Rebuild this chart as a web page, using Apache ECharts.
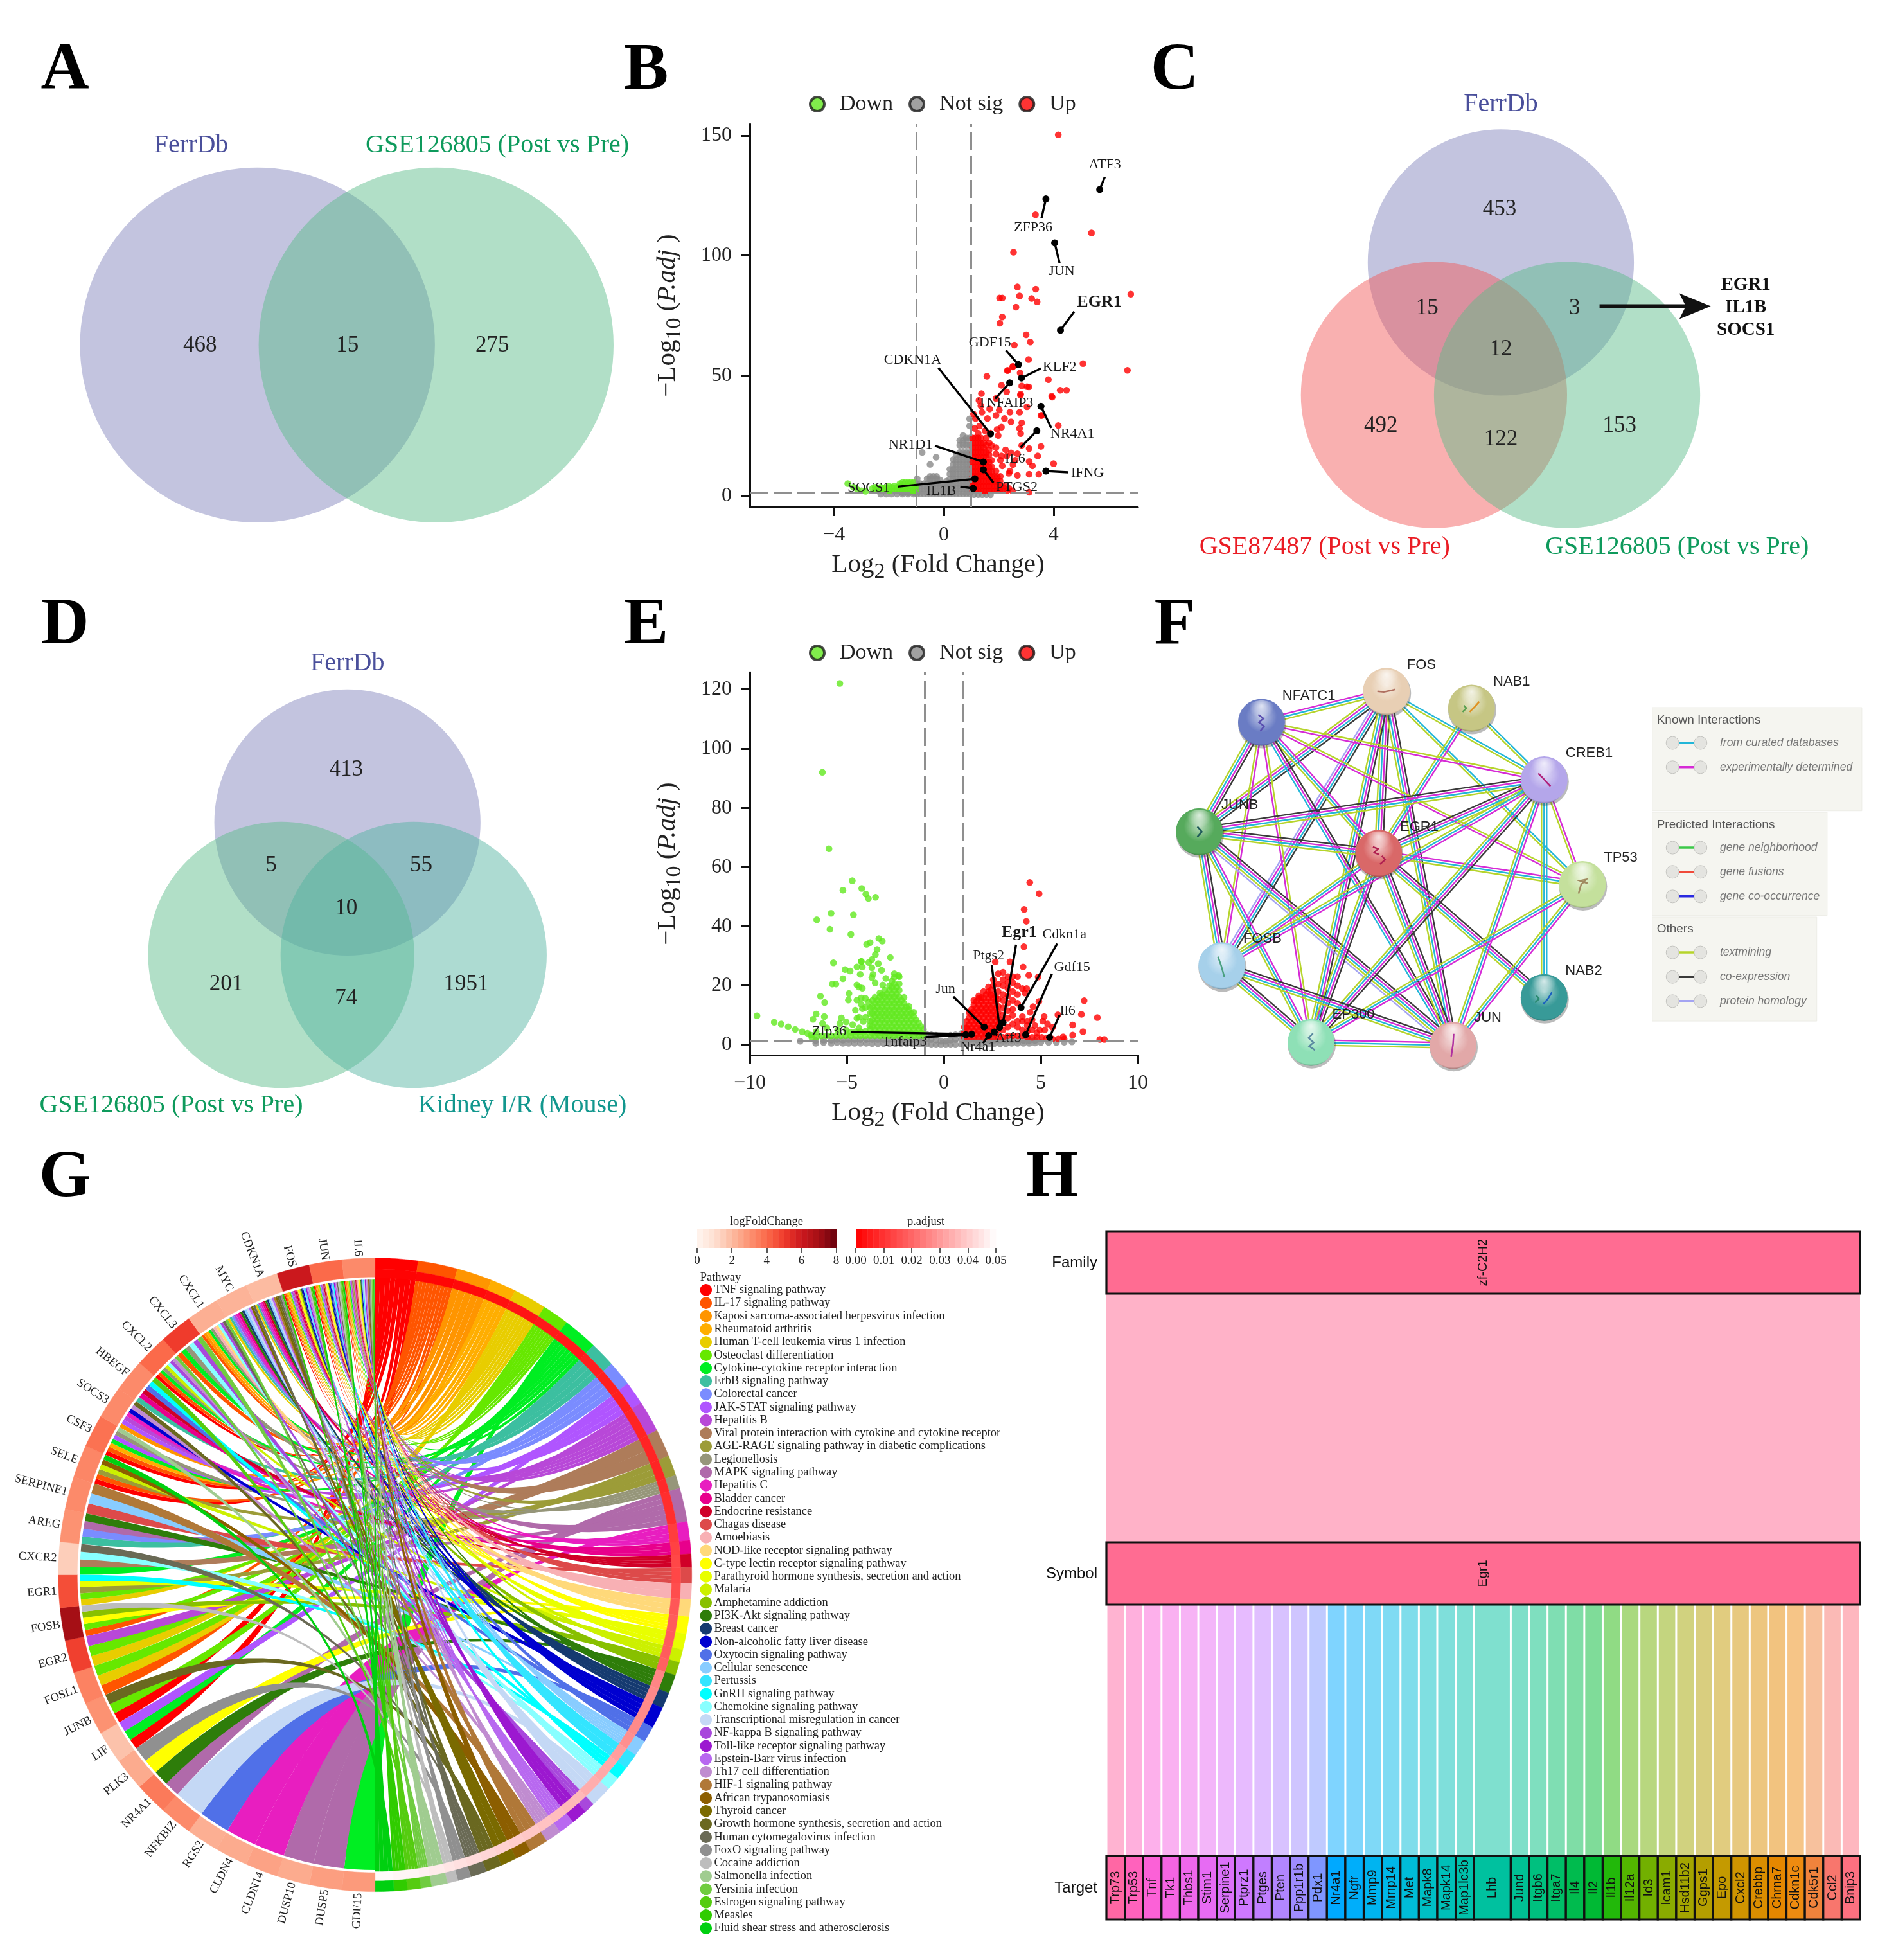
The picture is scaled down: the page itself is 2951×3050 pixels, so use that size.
<!DOCTYPE html>
<html><head><meta charset="utf-8">
<style>html,body{margin:0;padding:0;background:#fff}#c{width:2951px;height:3050px}</style>
<script src="https://cdn.jsdelivr.net/npm/echarts@6/dist/echarts.min.js"></script>
</head><body><div id="c"></div>
<script>
// ---------- DATA ----------
const panelLetters=['A','B','C','D','E','F','G','H'];
const vennSetsA=['FerrDb','GSE126805 (Post vs Pre)'];
const vennCountsA=[468,15,275];
const vennSetsC=['FerrDb','GSE87487 (Post vs Pre)','GSE126805 (Post vs Pre)'];
const vennCountsC=[453,15,3,12,492,122,153];
const vennGenesC=['EGR1','IL1B','SOCS1'];
const vennSetsD=['FerrDb','GSE126805 (Post vs Pre)','Kidney I/R (Mouse)'];
const vennCountsD=[413,5,55,10,201,74,1951];

// Volcano B: [log2FC, [-log10 p ...]]
const bGrayCols=[[-2.3,[.6]],[-2.1,[.6]],[-1.9,[.6]],[-1.7,[.6]],[-1.5,[.6,1.2]],[-1.3,[.6,1.2]],[-1.1,[.6,1.2]],[-.97,[.8,3,5,7]],[-.85,[.8,3,5]],[-.73,[.8,3,5]],[-.61,[.8,3,5,7]],[-.5,[.8,3,5,7,8]],[-.38,[.8,3,5,7,8]],[-.26,[.8,3,5,7,8]],[-.14,[.8,3,5,6.5]],[-.02,[.8,3,5]],[.1,[.8,3,5,6]],[.22,[.8,3,5,7,9,11]],[.34,[.8,3,5,7,9,11,13,15]],[.46,[.8,3,5,7,9,11,13,15,17]],[.58,[.8,3,5,7,9,11,13,15,17,18,21,23]],[.7,[.8,3,5,7,9,11,13,15,17,18,21,23,25]],[.82,[.8,3,5,7,9,11,13,15,17,18,21,23,24]],[.94,[.8,3,5,7,9,11,13,15,17,18,21,24,29,32]],[1.1,[.4]],[1.25,[.4]],[1.4,[.4]],[1.55,[.4]],[1.7,[.3]],[-.5,[13]],[-.28,[16]],[-.79,[18]]];
const bDownCols=[[-3.5,[5]],[-3.3,[3.5]],[-3.15,[2.5]],[-3,[2]],[-2.85,[1.8]],[-2.6,[3]],[-2.5,[2.2,3.5]],[-2.4,[2,3.2]],[-2.3,[2,3.5]],[-2.2,[2,3]],[-2.1,[2,3.5]],[-2,[2,4]],[-1.9,[2,3.5]],[-1.8,[2,4]],[-1.7,[2,3.5]],[-1.6,[2,4,5]],[-1.5,[2,3.5,5.5]],[-1.4,[2,3.5,5.5]],[-1.3,[2,4,5.5]],[-1.2,[2,4,5.5]],[-1.1,[2,3.5,5.5]],[-1.03,[2,3.5]]];
const bUpIso=[[4.17,150.3],[3.34,117],[5.38,109.4],[2.54,101.4],[2.68,86.9],[3.35,86],[6.81,83.9],[2.76,83.2],[2.03,82.3],[2.13,82.3],[3.2,82.1],[3.4,80.7],[2.63,78.5],[2.13,74.4],[2.04,71.8],[3.0,67],[3.15,64],[2.57,62.7],[3.09,56.7],[5.07,55],[2.51,53.6],[6.69,52.2],[2.31,52.1],[2.78,51.1],[1.57,49.7],[3.81,48.3],[2.1,46],[2.84,45.7],[3.1,45.3],[4.24,43.9],[4.47,43.9],[3.95,41],[2.79,41.8],[1.37,42.5],[4.17,29.2],[3.57,33.4],
[2.33,52.1],[2.52,53.9],[2.29,43.2],[2.8,42.3],[3.03,45.4],[3.93,41.4],[1.28,39.7],[1.9,40.5],[1.35,37.4],[1.67,36.1],[1.39,34.7],[1.16,32.1],[1.59,32.1],[1.9,33.4],[2.02,35.6],[2.41,34.7],[2.76,34.7],[3.03,37],[2.21,32.1],[2.45,30.7],[2.84,30.3],[2.76,28],[2.1,28.5],[1.94,27.6],[2.8,25.8],[1.98,25],[3.54,33.4],[3.54,20.5],[3.42,16.5],[3.11,19.6],[2.84,20.9],[2.25,19.1],[2.45,17.8],[2.1,16.5],[1.9,20],[1.74,20.9],[2.68,17.4],[3.11,14.2],[3.23,12.4],[2.13,12.4],[1.74,14.7],[2.52,12.9],[2.41,10.2],[2.68,8.4],[2.37,9.3],[3.11,8.9],[3.46,8.9],[4.0,13.3],[1.9,10.2],[2.06,8],[3.11,1.4],[2.21,4],[2.37,3],[2.06,14.7],[1.9,17.4],[2.29,16.5],[2.6,14.7],[1.08,34],[1.12,28],[1.3,29],[1.5,27],[1.7,26],[1.25,26]];
const bUpCols=[[1.05,[2,4,6,8,10,12,14,16,18,20,22,24]],[1.15,[2,4,6,8,10,12,14,16,18,20,22,24]],[1.25,[2,4,6,8,10,12,14,16,18,20,22,24]],[1.35,[2,4,6,8,10,12,14,16,18,20,22,24]],[1.45,[2,4,6,8,10,12,14,16,18,20,22]],[1.55,[2,4,6,8,10,12,14,16,18,21,24]],[1.65,[2,4,6,8,10,12,14,17,19,22]],[1.75,[2,4,6,8,10,12]],[1.85,[2,4,6,8]],[1.95,[2,4,6,8]],[2.05,[2,4,6]],[2.15,[2,3.5]],[2.3,[2]],[2.5,[2]]];
const bGenes=['ATF3','ZFP36','JUN','EGR1','GDF15','KLF2','TNFAIP3','NR4A1','CDKN1A','IL6','NR1D1','IFNG','PTGS2','SOCS1','IL1B'];
const bGeneX=[5.68,3.72,4.04,4.25,2.72,2.83,2.4,3.54,1.7,3.39,1.44,3.72,1.44,1.13,1.07];
const bGeneY=[127.5,123.6,105.3,68.9,54.6,49,47,37.2,25.7,27,14,10.2,10.8,7,3];

// Volcano E
const eGrayCols=[[-7.4,[1.2]],[-6.6,[.5,1.5]],[-6.2,[.8,1.6]],[-5.8,[.5,1.6]],[-5.5,[.8,1.8]],[-5.2,[.5,1.6]],[-4.9,[.5,1.8]],[-4.6,[.5,1.8]],[-4.3,[.5,1.8]],[-4,[.5,1.8]],[-3.7,[.4,1.8]],[-3.4,[.4,1.8]],[-3.1,[.4,1.8]],[-2.8,[.4,1.8]],[-2.5,[.4,1.8]],[-2.2,[.4,1.8]],[-1.9,[.4,1.8]],[-1.6,[.3,1.8]],[-1.3,[.3,1.8]],[-1.05,[.3,1.8]],[-.9,[.3,2,3.6]],[-.65,[0,1.8,3.4]],[-.4,[0,1.6,3.2]],[-.15,[0,1.2]],[.1,[0,1.2]],[.35,[0,1.6,3.2]],[.6,[0,1.8,3.4]],[.9,[.2,2,3.8]],[1.15,[.3,1.8]],[1.4,[.3,1.8]],[1.7,[.3,1.6]],[2,[.3,1.6]],[2.3,[.3,1.6]],[2.6,[.4,1.6]],[2.9,[.4,1.6]],[3.2,[.4,1.6]],[3.5,[.5,1.6]],[3.8,[.5,1.6]],[4.1,[.5,1.5]],[4.4,[.5,1.5]],[4.7,[.6,1.5]],[5,[.8]],[5.4,[.8]],[5.8,[.8]],[6.2,[.9]],[6.6,[1]]];
const eDownIso=[[-5.36,122],[-6.26,92],[-5.92,66.2],[-4.72,55.4],[-5.2,52.2],[-4.23,52.8],[-4.02,50.9],[-3.89,49.4],[-3.52,49.8],[-5.81,44.4],[-6.55,42.2],[-4.66,43.9],[-5.87,39],[-4.79,37.3],[-3.35,35.9],[-3.17,35],[-3.8,34.5],[-3.98,33.9],[-3.44,32.2],[-3.53,30.5],[-2.76,29.5],[-5.69,27.7],[-3.71,28.8],[-4.25,28.2],[-9.63,9.8],[-8.74,7.6],[-8.38,7],[-8.02,6.1],[-7.66,5.2],[-7.3,4.4],[-7.03,3.9],[-6.85,3.3],[-6.58,4.4],
[-4.26,28.1],[-4.48,26.3],[-4.2,26.3],[-3.87,27.8],[-3.71,26],[-3.38,27.4],[-3.21,25.2],[-4.31,23.8],[-3.65,23.8],[-3.71,22.7],[-3.54,20.9],[-3.15,20.2],[-2.99,22.4],[-2.33,23.4],[-5.09,25.4],[-4.83,24.9],[-5.2,22.3],[-5.75,20.5],[-5.56,20.5],[-4.48,20.2],[-4.37,19.5],[-4.2,19.1],[-4.89,17.3],[-4.92,15.1],[-6.36,16.4],[-6.14,14.3],[-4.48,15.1],[-4.26,15.8],[-4.04,15.7],[-3.87,14.4],[-4.26,13.7],[-4.04,12.6],[-4.2,12.2],[-4.56,11.7],[-6.58,10.4],[-6.74,8.6],[-6.16,9.5],[-5.28,9.1],[-5.03,7.7],[-5.36,7.2],[-4.7,6.8],[-4.37,9.3],[-4.48,9],[-4.04,9.3],[-4.15,7.9],[-4.37,5.7],[-3.82,6.4],[-6.25,7.2],[-6.03,5.7],[-5.47,5],[-5.03,5]];
const eDownCols=[[-1.05,[3,5.2]],[-1.3,[3,5.2,7.4]],[-1.55,[3,5.2,7.4,9.6,11]],[-1.8,[3,5.2,7.4,9.6,11.8,13]],[-2.05,[3,5.2,7.4,9.6,11.8,14,16]],[-2.3,[3,5.2,7.4,9.6,11.8,14,16.2,18.4,20.6,23]],[-2.55,[3,5.2,7.4,9.6,11.8,14,16.2,18.4,20.6,22.8,24]],[-2.8,[3,5.2,7.4,9.6,11.8,14,16.2,18.4,20]],[-3.05,[3,5.2,7.4,9.6,11.8,14,16.2,18.5]],[-3.3,[3,5.2,7.4,9.6,11.8,14,16.2,17.5]],[-3.55,[3,5.2,7.4,9.6,11.8,14,16]],[-3.8,[3,5.2,8,10.5,12.5]],[-4.05,[3,4.6]],[-4.3,[3,4.4]],[-4.55,[3,4.4]],[-4.8,[3,4.2]],[-5.05,[3]],[-5.3,[3]],[-5.55,[3]],[-5.8,[3]],[-6.05,[3]],[-6.3,[3]],[-6.55,[2.6]],[-6.8,[2.4]],
[-1.18,[4,6.2]],[-1.43,[4,6.2,8.4]],[-1.68,[4,6.2,8.4,10.6]],[-1.93,[4,6.2,8.4,10.6,12.8]],[-2.18,[4,6.2,8.4,10.6,12.8,15]],[-2.43,[4,6.2,8.4,10.6,12.8,15,17.2,19.4]],[-2.68,[4,6.2,8.4,10.6,12.8,15,17.2,19.4,21.5]],[-2.93,[4,6.2,8.4,10.6,12.8,15,17.2]],[-3.18,[4,6.2,8.4,10.6,12.8,15,17]],[-3.43,[4,6.2,8.4,10.6,12.8,15]],[-3.68,[4,6.2,8.4,10.6,12.8,15]]];
const eUpIso=[[4.43,54.8],[4.91,51],[4.14,45.7],[4.25,41.7],[4.13,33.1],[2.65,28],[3.41,28],[4.09,26.3],[4.38,23.5],[4.86,22.9],[7.23,14.9],[7.09,10.3],[5.88,10.1],[7.91,9.2],[6.64,6.7],[7.17,4.4],[6.64,3.3],[8.04,1.8],[8.27,1.8],[6.15,2.7],[5.6,5.9],[5.17,9.5],[4.9,14.6],[4.6,12.9],[4.27,19],[4.18,17.5],[4.45,11],[5.1,8],[5.35,7],[5.2,5],[4.7,6.5],[4.95,5]];
const eUpCols=[[1.05,[2.5,4,6]],[1.3,[2.5,4.7,6.9,9.1,11]],[1.55,[2.5,4.7,6.9,9.1,11.3,13.5,15]],[1.8,[2.5,4.7,6.9,9.1,11.3,13.5,15.7,16.5]],[2.05,[2.5,4.7,6.9,9.1,11.3,13.5,15.7,18]],[2.3,[2.5,4.7,6.9,9.1,11.3,13.5,15.7,17.9,19.5]],[2.55,[2.5,4.7,6.9,9.1,11.3,13.5,15.7,17,20,22]],[2.8,[2.5,5,7,9,11,13,15.5,18,20.5,24]],[3.05,[2.5,5,8,10,12.5,15,17,20,22,24.5]],[3.3,[3,6,9,11.5,14,16.5,19,21,23]],[3.55,[3,7,10,12,15,18,21,23]],[3.8,[3,6,8,14,17,20,23]],[4.05,[3,5,8,9.5,19]],[4.3,[2.5,4.5,6.5,8]],[4.55,[2.5,5,8.5]],[4.8,[2.5,4]],[5.05,[2.5]],[5.3,[2.2]],[5.6,[2]],[5.9,[2]],[6.2,[2]],
[1.18,[3.6,5.8,8]],[1.43,[3.6,5.8,8,10.2,12]],[1.68,[3.6,5.8,8,10.2,12.4,14.6]],[1.93,[3.6,5.8,8,10.2,12.4,14.6,16]],[2.18,[3.6,5.8,8,10.2,12.4,14.6,17]],[2.43,[3.6,5.8,8,10.2,12.4,14.6,16.8,18.5]],[2.68,[3.6,5.8,8,10.2,12.4,14.6,16]]];
const eGenes=['Egr1','Cdkn1a','Ptgs2','Gdf15','Jun','Il6','Atf3','Nr4a1','Tnfaip3','Zfp36'];
const eGeneX=[3.05,3.98,2.87,4.22,2.08,5.45,2.6,2.31,1.13,1.43];
const eGeneY=[7.5,12.6,5.9,3.4,6,2.5,4.3,3.1,3.4,3.6];

// Network F
const netNodes=['FOS','NAB1','NFATC1','CREB1','JUNB','EGR1','TP53','FOSB','NAB2','EP300','JUN'];
const netEdges=[['FOS','NFATC1','tcm'],['FOS','JUNB','kcmt'],['FOS','EGR1','kmct'],['FOS','CREB1','ct'],['FOS','TP53','ct'],['FOS','FOSB','kcmh'],['FOS','EP300','kmct'],['FOS','JUN','kmct'],['NAB1','CREB1','ct'],['NAB1','EGR1','mct'],['NFATC1','JUNB','kmct'],['NFATC1','EGR1','mct'],['NFATC1','CREB1','tm'],['NFATC1','TP53','tm'],['NFATC1','FOSB','mt'],['NFATC1','EP300','tm'],['NFATC1','JUN','kmc'],['JUNB','EGR1','kmct'],['JUNB','CREB1','kmct'],['JUNB','FOSB','kmct'],['JUNB','EP300','mct'],['JUNB','JUN','kmcth'],['EGR1','CREB1','kmct'],['EGR1','TP53','mct'],['EGR1','FOSB','mct'],['EGR1','EP300','kmct'],['EGR1','JUN','kmct'],['EGR1','NAB2','kmct'],['CREB1','TP53','mt'],['CREB1','NAB2','cct'],['CREB1','FOSB','mct'],['CREB1','EP300','kmct'],['CREB1','JUN','mct'],['TP53','EP300','mct'],['TP53','JUN','mct'],['FOSB','EP300','kmct'],['FOSB','JUN','kmct'],['EP300','JUN','mct']];
const netLegendGroups=[['Known Interactions',[['from curated databases','c'],['experimentally determined','m']]],['Predicted Interactions',[['gene neighborhood','g'],['gene fusions','r'],['gene co-occurrence','b']]],['Others',[['textmining','t'],['co-expression','k'],['protein homology','h']]]];

// Chord G
const pathways=['TNF signaling pathway','IL-17 signaling pathway','Kaposi sarcoma-associated herpesvirus infection','Rheumatoid arthritis','Human T-cell leukemia virus 1 infection','Osteoclast differentiation','Cytokine-cytokine receptor interaction','ErbB signaling pathway','Colorectal cancer','JAK-STAT signaling pathway','Hepatitis B','Viral protein interaction with cytokine and cytokine receptor','AGE-RAGE signaling pathway in diabetic complications','Legionellosis','MAPK signaling pathway','Hepatitis C','Bladder cancer','Endocrine resistance','Chagas disease','Amoebiasis','NOD-like receptor signaling pathway','C-type lectin receptor signaling pathway','Parathyroid hormone synthesis, secretion and action','Malaria','Amphetamine addiction','PI3K-Akt signaling pathway','Breast cancer','Non-alcoholic fatty liver disease','Oxytocin signaling pathway','Cellular senescence','Pertussis','GnRH signaling pathway','Chemokine signaling pathway','Transcriptional misregulation in cancer','NF-kappa B signaling pathway','Toll-like receptor signaling pathway','Epstein-Barr virus infection','Th17 cell differentiation','HIF-1 signaling pathway','African trypanosomiasis','Thyroid cancer','Growth hormone synthesis, secretion and action','Human cytomegalovirus infection','FoxO signaling pathway','Cocaine addiction','Salmonella infection','Yersinia infection','Estrogen signaling pathway','Measles','Fluid shear stress and atherosclerosis'];
const pathwaySizes=[8,7.4,6.6,4.8,6.2,5,6.5,4.8,4.7,4.3,5.9,5.2,3.8,2.5,6.3,3.5,2.5,2.5,3,3,3.2,3.2,3,2.4,2.5,3.5,3,4,3,3,3,2.5,2.5,4,2,3,3,3,3.5,3,3,3,3,2.5,2,3,2,2.5,2.5,3.5];
const pathwayPadj=[.0005,.001,.002,.003,.004,.005,.005,.006,.006,.006,.007,.007,.007,.008,.009,.012,.013,.014,.014,.015,.017,.018,.018,.018,.019,.026,.027,.027,.027,.028,.031,.033,.033,.034,.036,.036,.037,.038,.039,.04,.041,.042,.043,.044,.045,.046,.047,.048,.048,.049];
const pathwayColors=['#ff0000','#ff5500','#ff9500','#ffae00','#e8cd00','#66e800','#00ee22','#3cbfa0','#7a8cff','#b055ff','#b848d8','#ae7c5a','#9c9c38','#96967a','#b06aaa','#e81ec0','#e8008c','#d00028','#dd4a4a','#f8b0b4','#ffd97a','#ffff00','#e8ff00','#ccf000','#88c000','#2e7d0a','#153a70','#0000d0','#5070e8','#88ccff','#33e5ff','#00ffff','#88ffff','#c4d8f5','#a848dc','#9c18d0','#b868f0','#c08cd0','#b07838','#8c5e00','#7a6a00','#6a6820','#6a6a55','#909090','#bdbdbd','#a0cc90','#70cc40','#55cc10','#30cc00','#00d010'];
const chordGenes=['GDF15','DUSP5','DUSP10','CLDN14','CLDN4','RGS2','NFKBIZ','NR4A1','PLK3','LIF','JUNB','FOSL1','EGR2','FOSB','EGR1','CXCR2','AREG','SERPINE1','SELE','CSF3','SOCS3','HBEGF','CXCL2','CXCL3','CXCL1','MYC','CDKN1A','FOS','JUN','IL6'];
const geneLogFC=[2.8,2.7,2.4,2.6,2.4,2.3,3.2,3.6,2.4,1.8,3,3.4,4.9,7,4.6,1.5,3,3.2,3.3,3.8,3.2,3.2,4,5,2.3,2.2,2,6,4,3.2];
const geneLinks=[[6],[14],[14],[15],[15],[28],[33],[14,25],[21,43],[0,6,9],[0,5,41],[1,4,5],[4,5,10],[1,5,21,24,44],[4,5,12,22,31],[6,11,32,42],[7,8,14,25],[18,29,38],[0,1,12,23,39,49],[0,1,3,6,9,13,45],[2,9,10,15,27,37,41],[7,16,17,28,31,47],[0,1,6,13,23,32,34,37,46],[1,6,13,32,34,46],[1,2,3,6,13,19,20,32,34,42,46],[4,7,8,10,15,16,25,26,29,33,36,40,42],[4,7,10,15,16,17,25,26,29,33,36,38,40,41,42,43,48],[0,1,2,3,4,5,8,10,14,16,17,18,21,22,24,26,27,29,30,35,36,37,44,47,48,49],[0,1,2,3,4,5,8,10,14,17,18,20,21,22,26,27,28,29,31,35,36,37,42,44,45,46,47,48,49],[0,1,2,3,4,5,6,9,10,11,12,13,15,17,18,19,20,21,23,25,27,29,30,33,35,36,37,38,39,42,43,45,46,47,48,49]];

// Sankey H
const targets=['Trp73','Trp53','Tnf','Tk1','Thbs1','Stim1','Serpine1','Ptprz1','Ptges','Pten','Ppp1r1b','Pdx1','Nr4a1','Ngfr','Mmp9','Mmp14','Met','Mapk8','Mapk14','Map1lc3b','Lhb','Jund','Itgb6','Itga7','Il4','Il2','Il1b','Il12a','Id3','Icam1','Hsd11b2','Ggps1','Epo','Cxcl2','Crebbp','Chrna7','Cdkn1c','Cdk5r1','Ccl2','Bnip3'];
const targetWeights=[1,1,1,1,1,1,1,1,1,1,1,1,1,1,1,1,1,1,1,1,2,1,1,1,1,1,1,1,1,1,1,1,1,1,1,1,1,1,1,1];
const targetColors=['#FF67A4','#FF62BC','#FB61D7','#F564E3','#EF67EB','#E76BF3','#DC71FA','#CF78FF','#C17FFF','#B186FF','#9F8CFF','#7F96FF','#00A9FF','#00AEFA','#00B4F0','#00B8E7','#00BCD8','#00BFC4','#00C0B8','#00C1AB','#00C19F','#00C094','#00C07F','#00BE67','#00BB4E','#00B934','#22B80A','#53B400','#72B000','#8AAB00','#A3A500','#B49E00','#C49A00','#CF9400','#DB8E00','#E58700','#EE8B10','#F0833C','#F8766D','#FD7080'];
const sankeyFamily='zf-C2H2', sankeySymbol='Egr1';

// ---------- LAYOUT / STYLE ----------
const SERIF='"Liberation Serif"', SANS='"Liberation Sans"';
const S=1.945;
const RED='#ff0000', GREEN='#62e81f', GRAY='#8a8a8a';
const expand=c=>c.flatMap(([x,ys])=>ys.map(y=>[x,y]));
const T=(p,text,font,fill,align='center',valign='middle',rot=0)=>({type:'text',x:p[0],y:p[1],rotation:rot,style:{text,font,fill,textAlign:align,textVerticalAlign:valign,align,verticalAlign:valign}});
const overlay=(items,fn,gi=0)=>({type:'custom',xAxisIndex:gi,yAxisIndex:gi,silent:true,animation:false,data:items.map((_,i)=>[i,0]),renderItem:(params,api)=>({type:'group',children:fn(items[params.dataIndex],p=>api.coord(p),params.dataIndex)})});
const D=(x,y)=>[x*S,y*S];
const F=n=>n+'px '+SERIF;

// ---- venn
const vFill={lav:'rgba(128,130,186,0.47)',grn:'rgba(90,186,136,0.47)',red:'rgba(242,88,88,0.47)',teal:'rgba(80,178,160,0.47)'};
const BLUE='#4a4f9b',GTXT='#0e9a5c',RTXT='#ea1c24',TTXT='#12978e';
const vennCircles=[[206,276,142,'lav'],[349,276,142,'grn'],[1201,210,106.5,'lav'],[1147.5,316,106.5,'red'],[1254,316,106.5,'grn'],[278,658,106.5,'lav'],[225,764,106.5,'grn'],[331,764,106.5,'teal']];
const vennTexts=[
 [153,116.7,vennSetsA[0],40,BLUE],[398,116.7,vennSetsA[1],40,GTXT],
 [160,276.7,vennCountsA[0],35,'#222'],[278,276.7,vennCountsA[1],35,'#222'],[394,276.7,vennCountsA[2],35,'#222'],
 [1201,83.7,vennSetsC[0],40,BLUE],[1060,437.7,vennSetsC[1],40,RTXT],[1342,437.7,vennSetsC[2],40,GTXT],
 [1200,167.7,vennCountsC[0],35,'#222'],[1142,246.7,vennCountsC[1],35,'#222'],[1260,246.7,vennCountsC[2],35,'#222'],[1201,279.7,vennCountsC[3],35,'#222'],[1105,340.7,vennCountsC[4],35,'#222'],[1201,351.7,vennCountsC[5],35,'#222'],[1296,340.7,vennCountsC[6],35,'#222'],
 [278,530.7,vennSetsD[0],40,BLUE],[137,884.7,vennSetsD[1],40,GTXT],[418,884.7,vennSetsD[2],40,TTXT],
 [277,615.7,vennCountsD[0],35,'#222'],[217,692.7,vennCountsD[1],35,'#222'],[337,692.7,vennCountsD[2],35,'#222'],[277,726.7,vennCountsD[3],35,'#222'],[181,787.7,vennCountsD[4],35,'#222'],[277,798.7,vennCountsD[5],35,'#222'],[373,787.7,vennCountsD[6],35,'#222']
];
const letterPos=[[52,57],[517,57],[940,57],[52,501],[517,501],[940,501],[52,943],[842,943]];

// ---- volcano leaders
const zB=(x,y)=>[950+x/1.845,100+y/1.912], zE=(x,y)=>[950+x/1.845,960+y/1.912];
const bLead=[[[1420,335],[1420,298]],[[1238,458],[1214,487]],[[1290,592],[1296,616]],[[1332,736],[1404,708]],[[1136,851],[1090,828]],[[1236,905],[1290,901]],[[1105,995],[1135,1008]],[[1266,1082],[1327,1100]],[[942,903],[868,880]],[[1178,1140],[1162,1175]],[[932,1135],[862,1132]],[[1315,1214],[1370,1216]],[[1100,1245],[1167,1258]],[[825,1257],[742,1260]],[[1005,1257],[950,1270]]];
const eLead=[[[1165,975],[1174,940]],[[1283,972],[1304,945]],[[1095,1035],[1086,1008]],[[1268,1062],[1326,1043]],[[985,1130],[962,1108]],[[1290,1185],[1313,1173]],[[1110,1245],[1143,1253]],[[1070,1268],[1055,1280]],[[905,1250],[845,1265]],[[690,1235],[628,1233]]];
const volGenes=(gi,names,xs,ys,lead,z,big)=>({type:'custom',xAxisIndex:gi,yAxisIndex:gi,silent:true,animation:false,z:5,
 data:names.map((_,i)=>[xs[i],ys[i]]),
 renderItem:(params,api)=>{const i=params.dataIndex,p=api.coord([api.value(0),api.value(1)]),e=z(...lead[i][0]),l=z(...lead[i][1]);
  const isBig=names[i]===big;
  return {type:'group',children:[
   {type:'line',shape:{x1:p[0],y1:p[1],x2:e[0],y2:e[1]},style:{stroke:'#000',lineWidth:3.4}},
   {type:'circle',shape:{cx:p[0],cy:p[1],r:5.5},style:{fill:'#000'}},
   T(l,names[i],(isBig?'bold 26px ':'22px ')+SERIF,'#1a1a1a')]};}});
const rich={a:{fontFamily:SERIF,fontSize:41,color:'#222'},i:{fontFamily:SERIF,fontSize:41,fontStyle:'italic',color:'#222'},s:{fontFamily:SERIF,fontSize:34,color:'#222',padding:[22,0,0,0]}};
const axisCommon={axisLine:{show:true,onZero:false,lineStyle:{color:'#111',width:3}},axisTick:{show:true,length:14,lineStyle:{color:'#111',width:3}},splitLine:{show:false},nameLocation:'middle'};
const lab=(m)=>({show:true,margin:m,fontFamily:SERIF,fontSize:32,color:'#222',formatter:v=>String(v).replace('-','−')});
const xNameStyle={rich,padding:[0,18,0,0]}, yNameStyle={rich};
const DOT=10.5;
const volSeries=(gi,gray,down,up)=>[
 {type:'scatter',name:'Not sig',xAxisIndex:gi,yAxisIndex:gi,symbolSize:DOT,animation:false,silent:true,itemStyle:{color:GRAY},data:gray},
 {type:'scatter',name:'Down',xAxisIndex:gi,yAxisIndex:gi,symbolSize:DOT,animation:false,silent:true,itemStyle:{color:GREEN},data:down},
 {type:'scatter',name:'Up',xAxisIndex:gi,yAxisIndex:gi,symbolSize:DOT,animation:false,silent:true,itemStyle:{color:RED},data:up,
  markLine:{silent:true,animation:false,symbol:'none',label:{show:false},lineStyle:{type:[28,9],color:'#8f8f8f',width:3},data:[{xAxis:-1},{xAxis:1},{yAxis:1.3}]}}
];
const legendCfg=(top)=>({left:1254,top,orient:'horizontal',selectedMode:false,itemWidth:22,itemHeight:22,itemGap:24,textStyle:{fontFamily:SERIF,fontSize:34,color:'#222',padding:[0,0,0,19]},
 data:[{name:'Down',icon:'circle',itemStyle:{color:GREEN,borderColor:'#1c1c1c',borderWidth:4}},{name:'Not sig',icon:'circle',itemStyle:{color:GRAY,borderColor:'#1c1c1c',borderWidth:4}},{name:'Up',icon:'circle',itemStyle:{color:RED,borderColor:'#1c1c1c',borderWidth:4}}]});

// ---- network
const zF=(x,y)=>[1800+x/1.4255,1000+y/2.178];
const netPos={FOS:[510,165],NAB1:[699,222],NFATC1:[233,270],CREB1:[860,465],JUNB:[95,641],EGR1:[493,714],TP53:[945,820],FOSB:[145,1095],NAB2:[860,1203],EP300:[343,1355],JUN:[658,1365]};
const netLab={FOS:[588,76],NAB1:[788,132],NFATC1:[338,181],CREB1:[960,375],JUNB:[185,551],EGR1:[583,625],TP53:[1030,730],FOSB:[235,1003],NAB2:[948,1112],EP300:[437,1262],JUN:[735,1272]};
const netCol={FOS:'#e8cfb4',NAB1:'#c6c684',NFATC1:'#6a7cc4',CREB1:'#b4a6ea',JUNB:'#56aa5c',EGR1:'#d96868',TP53:'#c4e09c',FOSB:'#a6d0ea',NAB2:'#389a98',EP300:'#8ee0b6',JUN:'#e2a8a8'};
const netGlyph={FOS:[['#b07060',[[-14,0],[-4,1],[6,-1],[14,-3]]]],NAB1:[['#5aa050',[[-14,6],[-8,0],[-12,-4]]],['#e09020',[[-3,6],[5,-2],[12,-10]]]],NFATC1:[['#5a4fb0',[[-5,-12],[3,-6],[-4,0],[4,6],[-2,14]]]],CREB1:[['#b0207a',[[-9,-10],[-2,-3],[6,6],[10,10]]]],JUNB:[['#1f5a5a',[[-3,-8],[4,0],[-3,8]]]],EGR1:[['#b02050',[[-9,-10],[-1,-7],[-7,-1],[1,2]]],['#b02050',[[5,4],[10,10],[2,17]]]],TP53:[['#a08a60',[[-6,14],[-2,0],[6,-8],[-4,-6],[8,-2]]]],FOSB:[['#4aa080',[[-6,-14],[-1,0],[4,18]]]],NAB2:[['#2a8a70',[[-14,8],[-8,2],[-12,-3]]],['#1a60c0',[[-1,10],[6,2],[12,-8]]]],EP300:[['#5a8aa0',[[3,-14],[-4,-7],[4,0],[-3,6],[6,12]]]],JUN:[['#b030a0',[[1,-18],[0,-2],[-3,18]]]]};
const edgeCol={c:'#22b6d8',m:'#d62bd6',t:'#b6d42b',k:'#3a3a3a',h:'#a4a4f2',g:'#3cc84a',r:'#f04a3a',b:'#2a2ae0'};
const netBoxes=[[1100,220,1565,570],[1100,575,1488,925],[1100,930,1465,1283]];
const netRows=[[262,[340,422]],[617,[695,777,860]],[970,[1050,1133,1215]]];

// ---- chord
const cx=583.7,cy=2450.6,R=493;
const pt=(deg,r)=>{const t=deg*Math.PI/180;return [cx+R*r*Math.sin(t),cy-R*r*Math.cos(t)];};
const arcPoly=(a1,a2,r1,r2)=>{const o=[];const n=Math.max(3,Math.ceil(Math.abs(a2-a1)/0.7));for(let i=0;i<=n;i++)o.push(pt(a1+(a2-a1)*i/n,r1));for(let i=n;i>=0;i--)o.push(pt(a1+(a2-a1)*i/n,r2));return o;};
const pTotal=pathwaySizes.reduce((a,b)=>a+b,0);
let acc=0;const pathArc=pathwaySizes.map(s=>{const a=acc/pTotal*180;acc+=s;return [a,acc/pTotal*180];});
const geneArc=chordGenes.map((_,i)=>[180+i*6,186+i*6]);
const REDS=['#fff5f0','#fee0d2','#fcbba1','#fc9272','#fb6a4a','#ef3b2c','#cb181d','#a50f15','#67000d'];
const fcCol=v=>echarts.color.lerp(v/8,REDS);
const pCol=v=>echarts.color.lerp(v/0.05,['#ff0000','#ffffff']);
const RIBG=.932,RIBP=.938;
const links=[];geneLinks.forEach((l,g)=>l.forEach((p,j)=>links.push({g,p,j,m:l.length})));
const byPath=pathways.map(()=>[]);links.forEach(k=>byPath[k.p].push(k));
byPath.forEach((l,p)=>{l.forEach((k,i)=>{const w=(pathArc[p][1]-pathArc[p][0])/l.length;k.a1=pathArc[p][0]+i*w;k.a2=k.a1+w;});});
links.forEach(k=>{const w=6/k.m;k.g1=geneArc[k.g][0]+k.j*w;k.g2=k.g1+w;});
const sorted=links.slice().sort((x,y)=>x.p-y.p);
const quad=(a,b,n=28)=>{const o=[];for(let i=1;i<n;i++){const t=i/n,u=1-t;o.push([u*u*a[0]+2*u*t*cx+t*t*b[0],u*u*a[1]+2*u*t*cy+t*t*b[1]]);}return o;};
const ribbon=k=>{const o=[];for(let i=0;i<=3;i++)o.push(pt(k.a1+(k.a2-k.a1)*i/3,RIBP));const b1=pt(k.g1,RIBG);o.push(...quad(o[o.length-1],b1));for(let i=0;i<=3;i++)o.push(pt(k.g1+(k.g2-k.g1)*i/3,RIBG));o.push(...quad(pt(k.g2,RIBG),pt(k.a1,RIBP)));return o;};

// ---- sankey rows (px inside the sankey grid)
const SY={fam:[0,97],sym:[484,581],tar:[972,1071]};
const sankeySpan=[];{let a=0;targetWeights.forEach(w=>{sankeySpan.push([a,a+w]);a+=w;});}
const sankeyTotal=targetWeights.reduce((a,b)=>a+b,0);

// ---------- SERIES ----------
const series=[];
series.push(overlay(vennCircles,(c,C)=>{const p=C(D(c[0],c[1]));return [{type:'circle',shape:{cx:p[0],cy:p[1],r:c[2]*S},style:{fill:vFill[c[3]]}}];}));
series.push(overlay(vennTexts,(t,C)=>[T(C(D(t[0],t[1])),String(t[2]),F(t[3]),t[4])]));
series.push(overlay(panelLetters,(l,C,i)=>[T(C(D(letterPos[i][0],letterPos[i][1])),l,'bold 104px '+SERIF,'#000')]));
series.push(overlay([0],(_,C)=>{const a=C(D(1280,245)),b=C(D(1349,245)),h=C(D(1369,245));return [
 {type:'line',shape:{x1:a[0],y1:a[1],x2:b[0]+8,y2:b[1]},style:{stroke:'#111',lineWidth:6}},
 {type:'polygon',shape:{points:[h,[b[0]-10,b[1]-20],[b[0],b[1]],[b[0]-10,b[1]+20]]},style:{fill:'#111'}}];}));
series.push(overlay(vennGenesC,(g,C,i)=>[T(C(D(1397,228+i*18)),g,'bold 29px '+SERIF,'#111')]));
// volcano
series.push(...volSeries(1,expand(bGrayCols),expand(bDownCols),bUpIso.concat(expand(bUpCols))));
series.push(volGenes(1,bGenes,bGeneX,bGeneY,bLead,zB,'EGR1'));
series.push(...volSeries(2,expand(eGrayCols),eDownIso.concat(expand(eDownCols)),eUpIso.concat(expand(eUpCols))));
series.push(volGenes(2,eGenes,eGeneX,eGeneY,eLead,zE,'Egr1'));
// network
series.push(overlay(netEdges,(e,C)=>{const a=C(zF(...netPos[e[0]])),b=C(zF(...netPos[e[1]]));const dx=b[0]-a[0],dy=b[1]-a[1],L=Math.hypot(dx,dy),nx=-dy/L,ny=dx/L,n=e[2].length;
 return e[2].split('').map((ch,i)=>{const o=(i-(n-1)/2)*4;return {type:'line',shape:{x1:a[0]+nx*o,y1:a[1]+ny*o,x2:b[0]+nx*o,y2:b[1]+ny*o},style:{stroke:edgeCol[ch],lineWidth:2.4}};});}));
series.push(overlay(netNodes,(n,C)=>{const p=C(zF(...netPos[n])),c=netCol[n],r=36.5;
 const dk=echarts.color.lerp(.55,[c,'#000000']),lt=echarts.color.lerp(.6,[c,'#ffffff']);
 const g=new echarts.graphic.RadialGradient(.5,.38,.66,[{offset:0,color:lt},{offset:.5,color:c},{offset:.88,color:c},{offset:1,color:dk}]);
 const hl=new echarts.graphic.RadialGradient(.5,.3,.7,[{offset:0,color:'rgba(255,255,255,.75)'},{offset:1,color:'rgba(255,255,255,0)'}]);
 const out=[{type:'circle',shape:{cx:p[0]+1,cy:p[1]+3,r:r+1},style:{fill:'rgba(60,60,60,.35)'}},
  {type:'circle',shape:{cx:p[0],cy:p[1],r},style:{fill:g}},
  {type:'ellipse',shape:{cx:p[0],cy:p[1]-20,rx:22,ry:14},style:{fill:hl}}];
 netGlyph[n].forEach(gl=>out.push({type:'polyline',shape:{points:gl[1].map(q=>[p[0]+q[0],p[1]+q[1]])},style:{stroke:gl[0],lineWidth:2.5,fill:null}}));
 out.push(T(C(zF(...netLab[n])),n,'22px '+SANS,'#222'));
 return out;}));
series.push(overlay(netLegendGroups,(g,C,i)=>{const bx=netBoxes[i],p1=C(zF(bx[0],bx[1])),p2=C(zF(bx[2],bx[3])),rw=netRows[i];
 const out=[{type:'rect',shape:{x:p1[0],y:p1[1],width:p2[0]-p1[0],height:p2[1]-p1[1]},style:{fill:'#f5f5f0',stroke:'#ecece6',lineWidth:1}},
 T(C(zF(1110,rw[0])),g[0],'19px '+SANS,'#555','left')];
 g[1].forEach((it,j)=>{const a=C(zF(1145,rw[1][j])),b=C(zF(1207,rw[1][j]));
  out.push({type:'line',shape:{x1:a[0],y1:a[1],x2:b[0],y2:b[1]},style:{stroke:edgeCol[it[1]],lineWidth:3.5}});
  [a,b].forEach(q=>out.push({type:'circle',shape:{cx:q[0],cy:q[1],r:10},style:{fill:'#e4e4e0',stroke:'#c4c4c0',lineWidth:1}}));
  out.push(T(C(zF(1250,rw[1][j])),it[0],'italic 17.6px '+SANS,'#777','left'));});
 return out;}));
// chord
series.push(overlay(sorted,(k,C)=>[{type:'polygon',shape:{points:ribbon(k).map(C)},style:{fill:pathwayColors[k.p]}}]));
series.push(overlay(pathways,(n,C,i)=>[
 {type:'polygon',shape:{points:arcPoly(pathArc[i][0],pathArc[i][1],1,.965).map(C)},style:{fill:pathwayColors[i],stroke:pathwayColors[i],lineWidth:.5}},
 {type:'polygon',shape:{points:arcPoly(pathArc[i][0],pathArc[i][1],.965,.937).map(C)},style:{fill:pCol(pathwayPadj[i]),stroke:pCol(pathwayPadj[i]),lineWidth:.5}}]));
series.push(overlay(chordGenes,(n,C,i)=>{const m=geneArc[i][0]+3,t=m*Math.PI/180,r=Math.atan2(-Math.cos(t),-Math.sin(t));return [
 {type:'polygon',shape:{points:arcPoly(geneArc[i][0],geneArc[i][1],1,.94).map(C)},style:{fill:fcCol(geneLogFC[i]),stroke:fcCol(geneLogFC[i]),lineWidth:.5}},
 T(C(pt(m,1.006)),n,F(18.5),'#222','right','middle',r)];}));
// G legend
series.push(overlay(pathways,(n,C,i)=>{const y=2007.4+i*20.27,p=C([1098.8,y]);return [
 {type:'circle',shape:{cx:p[0],cy:p[1],r:9.3},style:{fill:pathwayColors[i]}},T(C([1111.4,y]),n,F(18.4),'#222','left')];}));
series.push(overlay([0],(_,C)=>[T(C([1089.8,1988.3]),'Pathway',F(18.4),'#222','left'),T(C([1193,1901]),'logFoldChange',F(18.5),'#222'),T(C([1441,1901]),'p.adjust',F(18.5),'#222')]));
// colour bars
const steps=Array.from({length:24},(_,i)=>i);
series.push(overlay(steps,(i,C)=>{const a=C([i/24*8,0]),b=C([(i+1)/24*8,1]);return [{type:'rect',shape:{x:a[0],y:b[1],width:b[0]-a[0]+.5,height:a[1]-b[1]},style:{fill:fcCol((i+.5)/24*8)}}];},3));
series.push(overlay(steps,(i,C)=>{const a=C([i/24*.05,0]),b=C([(i+1)/24*.05,1]);return [{type:'rect',shape:{x:a[0],y:b[1],width:b[0]-a[0]+.5,height:a[1]-b[1]},style:{fill:pCol((i+.5)/24*.05)}}];},4));
// sankey
series.push(overlay(targets,(n,C,i)=>{const s=sankeySpan[i],a=C([s[0],SY.sym[1]]),b=C([s[1],SY.tar[0]]);return [{type:'rect',shape:{x:a[0]+1.5,y:a[1],width:b[0]-a[0]-3,height:b[1]-a[1]},style:{fill:targetColors[i],opacity:.5}}];},5));
series.push(overlay([0],(_,C)=>{const a=C([0,SY.fam[1]]),b=C([sankeyTotal,SY.sym[0]]);return [{type:'rect',shape:{x:a[0],y:a[1],width:b[0]-a[0],height:b[1]-a[1]},style:{fill:'#ffb2c8'}}];},5));
series.push(overlay([[sankeyFamily,SY.fam,'Family'],[sankeySymbol,SY.sym,'Symbol']],(r,C)=>{const a=C([0,r[1][0]]),b=C([sankeyTotal,r[1][1]]),m=[(a[0]+b[0])/2,(a[1]+b[1])/2];return [
 {type:'rect',shape:{x:a[0],y:a[1],width:b[0]-a[0],height:b[1]-a[1]},style:{fill:'#ff6c92',stroke:'#111',lineWidth:3.2}},
 T(m,r[0],'20px '+SANS,'#111','center','middle',Math.PI/2),T([a[0]-14,m[1]+1],r[2],'24px '+SANS,'#111','right')];},5));
series.push(overlay(targets,(n,C,i)=>{const s=sankeySpan[i],a=C([s[0],SY.tar[0]]),b=C([s[1],SY.tar[1]]);return [
 {type:'rect',shape:{x:a[0],y:a[1],width:b[0]-a[0],height:b[1]-a[1]},style:{fill:targetColors[i],stroke:'#111',lineWidth:3.2}},
 T([(a[0]+b[0])/2,(a[1]+b[1])/2],n,'20px '+SANS,'#111','center','middle',Math.PI/2)];},5));
series.push(overlay([0],(_,C)=>{const a=C([0,SY.tar[0]]),b=C([0,SY.tar[1]]);return [T([a[0]-14,(a[1]+b[1])/2+1],'Target','24px '+SANS,'#111','right')];},5));

const hiddenX=(min,max)=>({min,max,show:false});
const option={animation:false,backgroundColor:'#fff',
 legend:[legendCfg(140),legendCfg(994)],
 grid:[{left:0,top:0,width:2951,height:3050},{left:1167,top:193,width:604,height:596},{left:1167,top:1046,width:604,height:596},{left:1085,top:1912,width:216.5,height:30},{left:1332,top:1912,width:218,height:30},{left:1722,top:1916,width:1173,height:1071}],
 xAxis:[hiddenX(0,2951),
  Object.assign({},axisCommon,{gridIndex:1,type:'value',min:-7.07,max:7.07,name:'{a|Log}{s|2}{a| (Fold Change)}',nameGap:62,nameTextStyle:xNameStyle,axisLabel:Object.assign(lab(28),{customValues:[-4,0,4]}),axisTick:Object.assign({},axisCommon.axisTick,{customValues:[-4,0,4]})}),
  Object.assign({},axisCommon,{gridIndex:2,type:'value',min:-10,max:10,interval:5,name:'{a|Log}{s|2}{a| (Fold Change)}',nameGap:62,nameTextStyle:xNameStyle,axisLabel:lab(28)}),
  {gridIndex:3,type:'value',min:0,max:8,interval:2,axisLine:{show:false},axisTick:{length:8,lineStyle:{color:'#222',width:1.5}},splitLine:{show:false},axisLabel:{margin:11,fontFamily:SERIF,fontSize:19,color:'#222'}},
  {gridIndex:4,type:'value',min:0,max:.05,interval:.01,axisLine:{show:false},axisTick:{length:8,lineStyle:{color:'#222',width:1.5}},splitLine:{show:false},axisLabel:{margin:11,fontFamily:SERIF,fontSize:19,color:'#222',formatter:v=>v.toFixed(2)}},
  {gridIndex:5,type:'value',min:0,max:sankeyTotal,show:false}],
 yAxis:[{min:0,max:3050,inverse:true,show:false},
  Object.assign({},axisCommon,{gridIndex:1,type:'value',min:-4.76,max:154.8,name:'{a|−Log}{s|10}{a| (}{i|P.adj}{a| )}',nameGap:100,nameTextStyle:yNameStyle,axisLabel:Object.assign(lab(28),{customValues:[0,50,100,150]}),axisTick:Object.assign({},axisCommon.axisTick,{customValues:[0,50,100,150]})}),
  Object.assign({},axisCommon,{gridIndex:2,type:'value',min:-3.5,max:125.8,name:'{a|−Log}{s|10}{a| (}{i|P.adj}{a| )}',nameGap:100,nameTextStyle:yNameStyle,axisLabel:Object.assign(lab(28),{customValues:[0,20,40,60,80,100,120]}),axisTick:Object.assign({},axisCommon.axisTick,{customValues:[0,20,40,60,80,100,120]})}),
  {gridIndex:3,type:'value',min:0,max:1,show:false},
  {gridIndex:4,type:'value',min:0,max:1,show:false},
  {gridIndex:5,type:'value',min:0,max:1071,inverse:true,show:false}],
 series};
const chart=echarts.init(document.getElementById('c'),null,{renderer:'canvas',width:2951,height:3050,devicePixelRatio:1});
chart.setOption(option);
</script></body></html>
